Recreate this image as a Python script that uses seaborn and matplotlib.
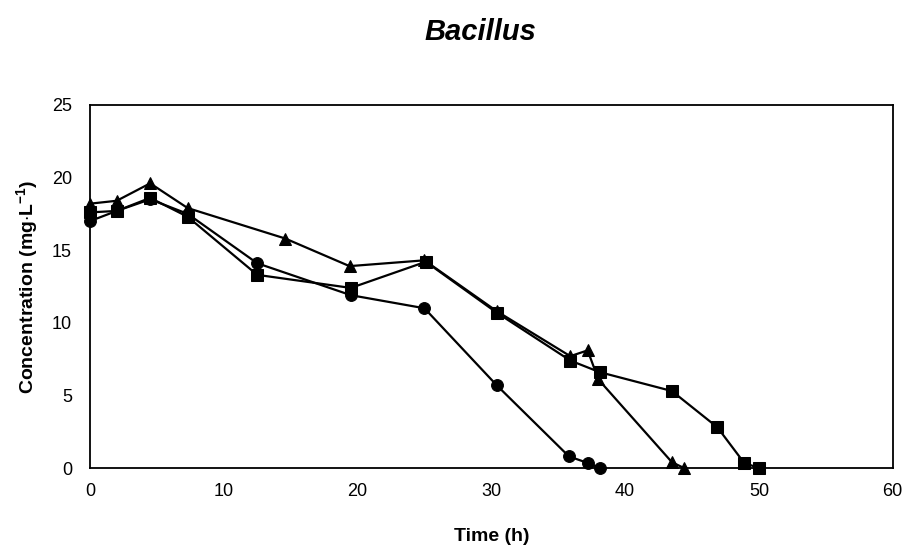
import numpy as np
import pandas as pd
import matplotlib
matplotlib.use("Agg")
import matplotlib.pyplot as plt
import seaborn as sns

# =============================================================================
# Datos
# =============================================================================
t_circulo = [0, 2, 4.5, 7.3, 12.5, 19.5, 25, 30.4, 35.8, 37.2, 38.1]
c_circulo = [17.0, 17.7, 18.5, 17.5, 14.1, 11.9, 11.0, 5.7, 0.8, 0.35, 0.0]

t_triangulo = [0, 2, 4.5, 7.3, 14.6, 19.4, 25, 30.4, 35.9, 37.2, 38.0, 43.5, 44.4]
c_triangulo = [18.2, 18.4, 19.6, 17.9, 15.8, 13.9, 14.3, 10.8, 7.7, 8.1, 6.1, 0.4, 0.0]

t_cuadrado = [0, 2, 4.5, 7.3, 12.5, 19.5, 25.1, 30.4, 35.9, 38.1, 43.5, 46.9, 48.9, 50]
c_cuadrado = [17.6, 17.7, 18.6, 17.3, 13.3, 12.4, 14.2, 10.7, 7.4, 6.6, 5.3, 2.8, 0.35, 0.0]

titulo = "Bacillus"
etiqueta_x = "Time (h)"
etiqueta_y = r"Concentration (mg$\cdot$L$^{\mathbf{-1}}$)"

df = pd.concat([
    pd.DataFrame({"t": t_circulo, "c": c_circulo, "serie": "circulo"}),
    pd.DataFrame({"t": t_triangulo, "c": c_triangulo, "serie": "triangulo"}),
    pd.DataFrame({"t": t_cuadrado, "c": c_cuadrado, "serie": "cuadrado"}),
], ignore_index=True)

# =============================================================================
# Gráfico
# =============================================================================
sns.set_style("white")
plt.rcParams["font.family"] = ["Liberation Sans", "DejaVu Sans"]
plt.rcParams["text.color"] = "black"
plt.rcParams["axes.labelcolor"] = "black"
plt.rcParams["xtick.color"] = "black"
plt.rcParams["ytick.color"] = "black"
plt.rcParams["mathtext.fontset"] = "custom"
plt.rcParams["mathtext.rm"] = "Liberation Sans:bold"
plt.rcParams["mathtext.bf"] = "Liberation Sans:bold"

fig = plt.figure(figsize=(9.06, 5.51), dpi=100)
ax = fig.add_axes([0.0993, 0.1506, 0.886, 0.659])

marcadores = {"circulo": "o", "triangulo": "^", "cuadrado": "s"}
for serie, m in marcadores.items():
    sub = df[df["serie"] == serie]
    sns.lineplot(data=sub, x="t", y="c", ax=ax, color="black", marker=m,
                 markersize=9 if m != "o" else 8.5, markeredgecolor="black",
                 linewidth=1.6, sort=False, estimator=None, legend=False,
                 clip_on=False)

ax.set_xlim(0, 60)
ax.set_ylim(0, 25)
ax.set_xticks(range(0, 61, 10))
ax.set_yticks(range(0, 26, 5))
ax.tick_params(axis="both", labelsize=13, length=0)
ax.tick_params(axis="x", pad=11)
ax.tick_params(axis="y", pad=13)
for s in ax.spines.values():
    s.set_color("black")
    s.set_linewidth(1.3)

ax.set_xlabel(etiqueta_x, fontsize=14, fontweight="bold", labelpad=20)
ax.set_ylabel(etiqueta_y, fontsize=14, fontweight="bold", labelpad=8)
fig.text(0.53, 0.942, titulo, fontsize=21, fontweight="bold", style="italic",
         ha="center", va="center")

plt.savefig("out.png", dpi=100)
plt.close()
